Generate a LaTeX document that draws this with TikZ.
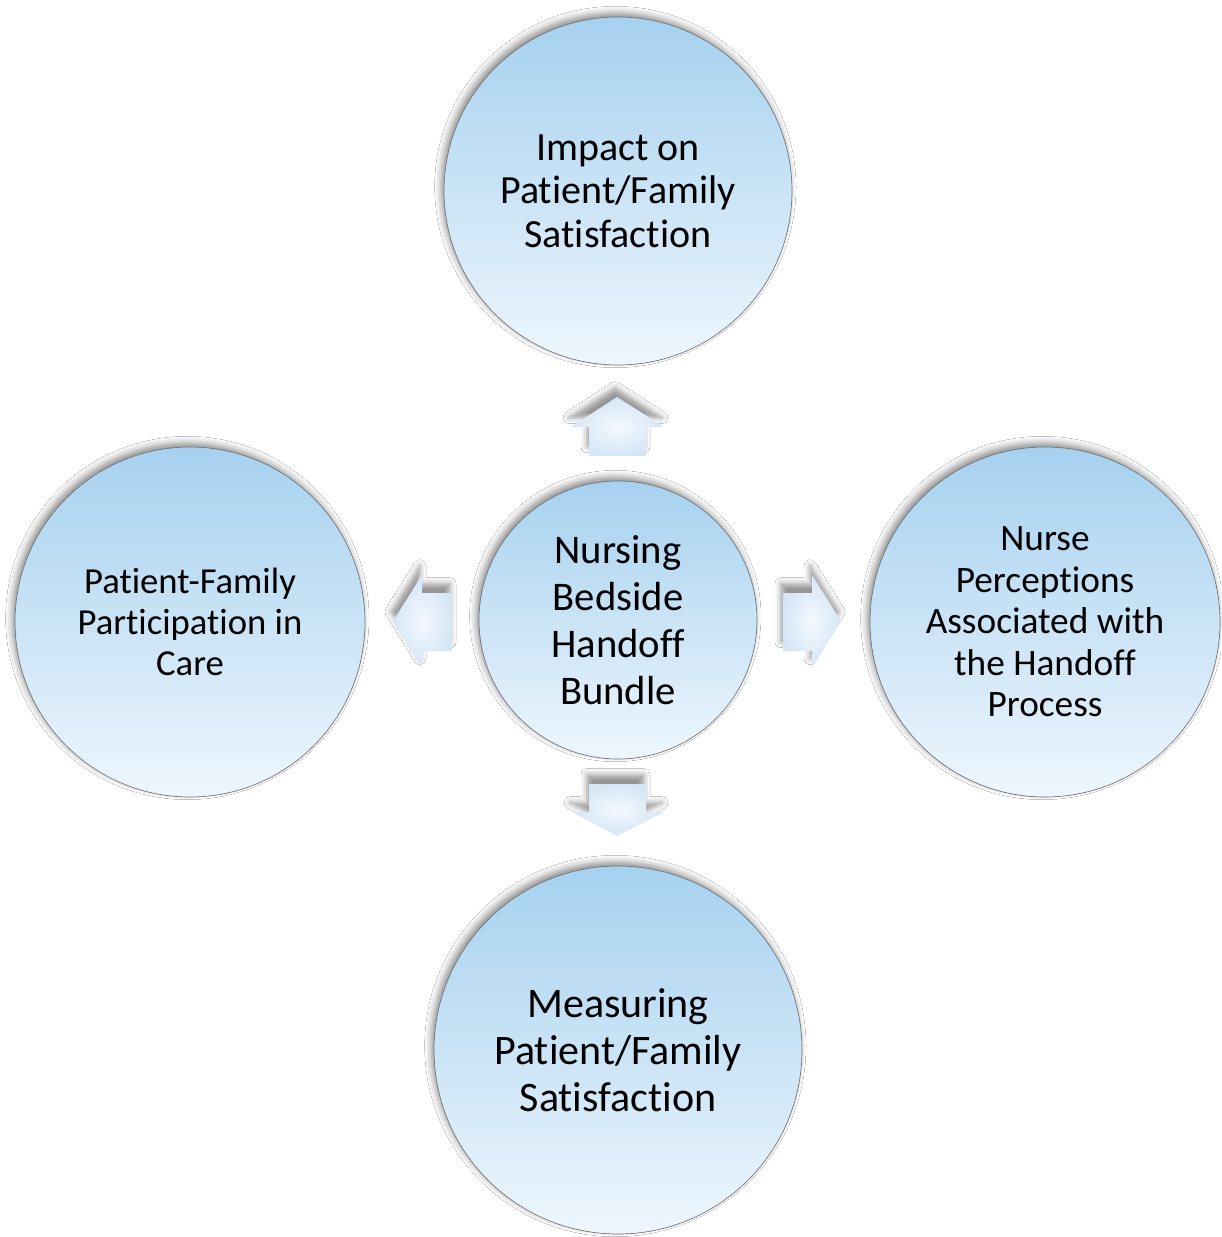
\documentclass[tikz,border=0pt]{standalone}
\usepackage{fontspec}
\setmainfont{Carlito}[Ligatures=NoCommon]
\usetikzlibrary{shadows.blur}
\definecolor{discTop}{HTML}{A6D1EF}
\definecolor{discBot}{HTML}{EEF6FD}
\definecolor{discEdge}{HTML}{6E7378}
\definecolor{arrIn}{HTML}{F4F8FD}
\definecolor{arrOut}{HTML}{D4E6F6}
\tikzset{
  disc/.style={circle, draw=discEdge, line width=0.5pt, inner sep=0pt,
    top color=discTop, bottom color=discBot, align=center, text=black,
    blur shadow={shadow xshift=-2pt, shadow yshift=3pt,
      shadow blur radius=5pt, shadow opacity=45}},
  blockarrow/.style={inner color=arrIn, outer color=arrOut, draw=none,
    blur shadow={shadow xshift=-1.5pt, shadow yshift=7pt,
      shadow blur radius=4.5pt, shadow opacity=42}},
  hubtxt/.style={font=\fontsize{30.5}{35.2}\selectfont},
  bottxt/.style={font=\fontsize{31.5}{35.2}\selectfont},
  toptxt/.style={font=\fontsize{30}{32.6}\selectfont},
  righttxt/.style={font=\fontsize{28}{31.1}\selectfont},
  lefttxt/.style={font=\fontsize{27.5}{30.8}\selectfont}
}
\begin{document}
\begin{tikzpicture}[x=0.75pt, y=-0.75pt]
  \useasboundingbox[fill=white] (0,0) rectangle (1221,1237);

  % outer topics and the central bundle
  \node[disc, toptxt, minimum size=261pt] (top) at (618,191)
    {Impact on\\Patient/Family\\Satisfaction};
  \node[disc, lefttxt, minimum size=262.5pt] (left) at (190,622)
    {Patient-Family\\Participation in\\Care};
  \node[disc, righttxt, minimum size=262.5pt] (right) at (1045,622)
    {Nurse\\Perceptions\\Associated with\\the Handoff\\Process};
  \node[disc, bottxt, minimum size=276pt] (bottom) at (618,1050)
    {Measuring\\Patient/Family\\Satisfaction};
  \node[disc, hubtxt, minimum size=208.5pt] (hub) at (618,620)
    {Nursing\\Bedside\\Handoff\\Bundle};

  % block arrows pointing outward from the hub
  \path[blockarrow] (617,397) -- (664,427) -- (646,427) -- (646,456)
    -- (589,456) -- (589,427) -- (571,427) -- cycle;
  \path[blockarrow] (393,621) -- (422,575) -- (422,593) -- (452,593)
    -- (452,651) -- (422,651) -- (422,668) -- cycle;
  \path[blockarrow] (841,621) -- (812,575) -- (812,593) -- (783,593)
    -- (783,651) -- (812,651) -- (812,668) -- cycle;
  \path[blockarrow] (617,836) -- (664,812) -- (646,812) -- (646,784)
    -- (589,784) -- (589,812) -- (572,812) -- cycle;
\end{tikzpicture}
\end{document}
